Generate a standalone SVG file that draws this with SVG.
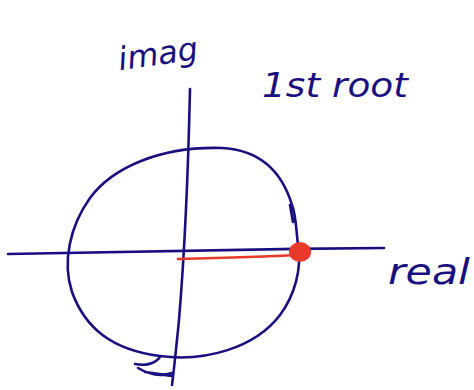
<svg xmlns="http://www.w3.org/2000/svg" width="474" height="390" viewBox="0 0 474 390">
<style>
.ink{fill:none;stroke:#1a0f80;stroke-width:2.6;stroke-linecap:round;stroke-linejoin:round}
.lbl{fill:#1a0f80;font-family:"DejaVu Sans",sans-serif;font-style:italic}
</style>
<rect width="474" height="390" fill="#fff"/>
<g id="connectors">
<path class="ink" d="M8,254 C100,252 250,249 384,248"/>
<path class="ink" d="M190,89 C188,180 184,260 179,320 C176,350 174,370 172,385"/>
</g>
<g id="circle">
<path class="ink" d="M292,205 C282,172 260,150 222,148 C160,146 112,168 90,198 C70,226 62,262 72,292 C85,328 112,350 160,356 C205,362 255,348 280,315 C295,295 302,268 298,245 C296,228 296,215 292,205 M290,205 L293,222"/>
<path class="ink" d="M135,364 C145,366 155,364 160,357 M138,368 C148,374 160,377 172,373 M145,372 C158,374 166,375 172,376"/>
</g>
<g id="root">
<path d="M178,259 C220,258 260,257 298,255" fill="none" stroke="#e8392b" stroke-width="2.6" stroke-linecap="round"/>
<ellipse cx="300" cy="252" rx="11" ry="10" fill="#e8392b"/>
</g>
<g id="label-imag"><text class="lbl" x="118" y="66" font-size="32" textLength="80" lengthAdjust="spacingAndGlyphs" transform="rotate(-8 150 55)">imag</text></g>
<g id="label-root"><text class="lbl" x="262" y="97" font-size="34" textLength="146" lengthAdjust="spacingAndGlyphs">1st root</text></g>
<g id="label-real"><text class="lbl" x="388" y="284" font-size="36" textLength="82" lengthAdjust="spacingAndGlyphs">real</text></g>
</svg>
